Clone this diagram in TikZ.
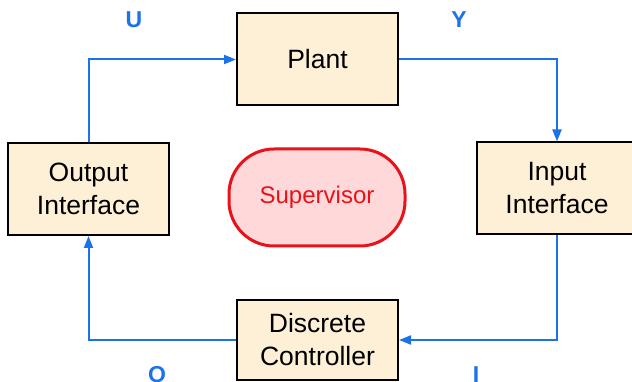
\documentclass[tikz,border=0pt]{standalone}
\usepackage{fontspec}
\setmainfont{Liberation Sans}
\usetikzlibrary{arrows.meta}
\definecolor{boxfill}{RGB}{253,240,214}
\definecolor{sigblue}{RGB}{26,115,232}
\definecolor{supred}{RGB}{232,18,26}
\definecolor{supfill}{RGB}{255,217,217}
\tikzset{
  block/.style={draw, line width=2pt, fill=boxfill, align=center, inner sep=0pt,
    minimum width=161pt, minimum height=92pt, font=\fontsize{26.5}{33}\selectfont},
  signal/.style={draw=sigblue, line width=2pt, -{Triangle[length=12pt,width=9pt]}},
  siglabel/.style={text=sigblue, font=\fontsize{23}{23}\selectfont\bfseries},
}
\begin{document}
\begin{tikzpicture}[x=1pt, y=-1pt]
\useasboundingbox (0,0) rectangle (632,382);
\node[block] (plant) at (317.5,59.5) {Plant};
\node[block] (outif) at (88.5,189) {Output\\Interface};
\node[block] (inif) at (557,188.5) {Input\\Interface};
\node[block, minimum height=80pt] (ctrl) at (317.5,340) {Discrete\\Controller};
\node[draw=supred, line width=3pt, fill=supfill, text=supred, rounded corners=45pt,
  minimum width=176pt, minimum height=97pt, font=\fontsize{24}{24}\selectfont] (sup) at (317,197.5) {Supervisor};
\draw[signal] (outif.north) |- (plant.west);
\draw[signal] (plant.east) -| (inif.north);
\draw[signal] (inif.south) |- (ctrl.east);
\draw[signal] (ctrl.west) -| (outif.south);
\node[siglabel] (u) at (134,20) {U};
\node[siglabel] (y) at (459,20) {Y};
\node[siglabel] (o) at (157,375) {O};
\node[siglabel] (i) at (476,375) {I};
\end{tikzpicture}
\end{document}
